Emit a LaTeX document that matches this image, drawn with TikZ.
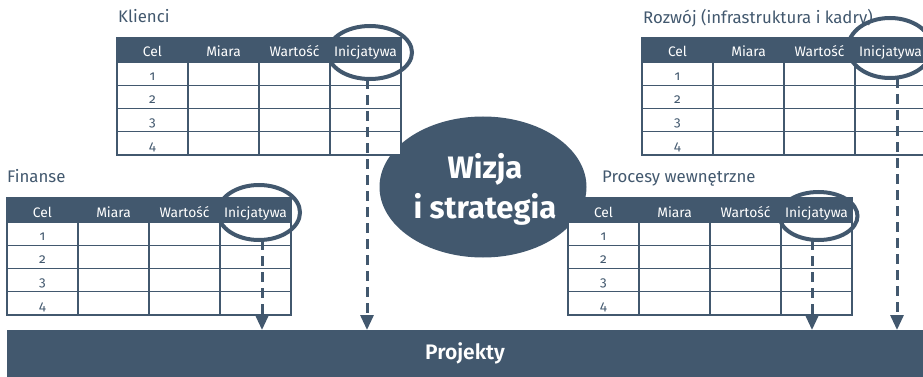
\documentclass[tikz,border=0pt]{standalone}
\usepackage{fontspec}
\setmainfont{Fira Sans}[Numbers=OldStyle]
\newfontfamily\semib{Fira Sans SemiBold}
\usetikzlibrary{arrows.meta,shapes.geometric}
\definecolor{slate}{RGB}{66,88,110}
\newcommand\bsctab[6]{%
  \node[tabtitle] (#1t) at (#5,#6) {#4};
  \node[hdr] (#1h) at (#2,#3) {};
  \foreach \c/\t in {0/Cel,1/Miara,2/Wartość,3/Inicjatywa}
    \node[hdrtxt] (#1h\c) at ({#2+35.5+71*\c},{#3+19}) {\t};
  \foreach \r in {1,...,4}{
    \foreach \c in {0,...,3}
      \node[cell] (#1c\r\c) at ({#2+71*\c},{#3+24+23.25*(\r-1)}) {};
    \node[numtxt] (#1n\r) at ({#2+35.5},{#3+24+23.25*\r-5}) {\r};
  }%
}
\begin{document}
\begin{tikzpicture}[x=1pt,y=-1pt,
  tabtitle/.style={text=slate, font=\fontsize{16.8}{20}\selectfont, inner sep=0pt, anchor=base west},
  hdr/.style={fill=slate, draw=slate, line width=1.2pt, minimum width=284pt, minimum height=24pt, inner sep=0pt, outer sep=0pt, anchor=north west},
  hdrtxt/.style={text=white, font=\fontsize{13.8}{16}\selectfont, inner sep=0pt, anchor=base},
  cell/.style={fill=white, draw=slate, line width=1.2pt, minimum width=71pt, minimum height=23.25pt, inner sep=0pt, outer sep=0pt, anchor=north west},
  numtxt/.style={text=slate, font=\fontsize{13.5}{16}\selectfont, inner sep=0pt, anchor=base},
  ring/.style={ellipse, draw=slate, line width=4pt, inner sep=0pt, outer sep=0pt},
  darr/.style={draw=slate, line width=3pt, dash pattern=on 10pt off 6pt, -{Triangle[length=15pt,width=13pt]}},
  bar/.style={fill=slate, text=white, font=\fontsize{21}{25}\selectfont\semib, inner sep=0pt, outer sep=0pt, anchor=north west, minimum width=916pt, minimum height=47pt},
  vision/.style={ellipse, fill=slate, inner sep=0pt, minimum width=207pt, minimum height=141pt},
  visiontxt/.style={text=white, font=\fontsize{31}{40}\selectfont\bfseries, align=center, inner sep=0pt}
]
\useasboundingbox (0,0) rectangle (923,377);
\clip (0,0) rectangle (923,377);
% central ellipse
\node[vision] (viz) at (483,187) {};
\node[visiontxt] (viztxt) at (485,189) {Wizja\\i strategia};
% tables
\bsctab{k}{117}{38}{Klienci}{118}{23}
\bsctab{r}{642}{38}{Rozwój (infrastruktura i kadry)}{643}{24}
\bsctab{f}{7}{198}{Finanse}{7}{182}
\bsctab{p}{568}{198}{Procesy wewnętrzne}{602}{182}
% bar
\node[bar] (proj) at (7,330) {Projekty};
% rings
\node[ring, minimum width=84pt, minimum height=53pt] (kring) at (370,52.5) {};
\node[ring, minimum width=84pt, minimum height=60pt] (rring) at (890,48) {};
\node[ring, minimum width=82pt, minimum height=55pt] (fring) at (259,212.5) {};
\node[ring, minimum width=78pt, minimum height=48pt] (pring) at (818.5,216) {};
% arrows
\draw[darr] ([xshift=-3pt]kring.south) -- ([xshift=-3pt]kring.south |- proj.north);
\draw[darr] ([xshift=7pt]rring.south) -- ([xshift=7pt]rring.south |- proj.north);
\draw[darr] ([xshift=3pt]fring.south) -- ([xshift=3pt]fring.south |- proj.north);
\draw[darr] ([xshift=-6.5pt]pring.south) -- ([xshift=-6.5pt]pring.south |- proj.north);
\end{tikzpicture}
\end{document}
